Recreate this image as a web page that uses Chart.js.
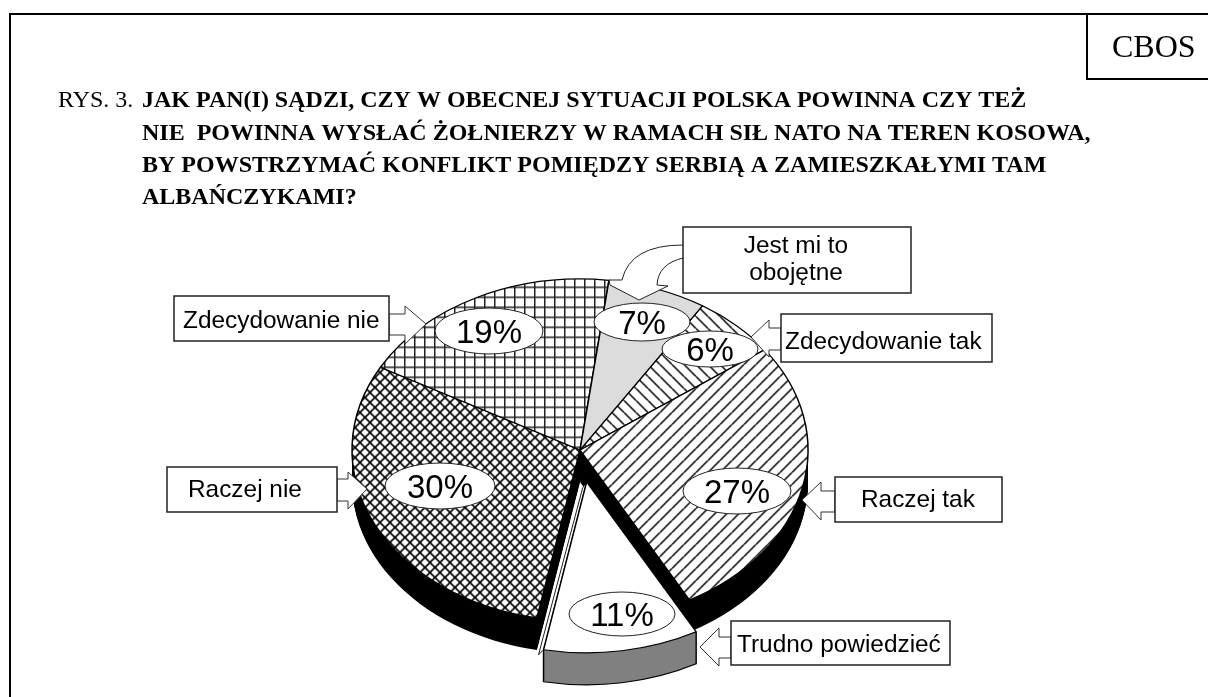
<!DOCTYPE html>
<html>
<head>
<meta charset="utf-8">
<title>CBOS - Kosowo</title>
<script src="https://cdn.jsdelivr.net/npm/chart.js"></script>
<style>
  html, body { margin: 0; padding: 0; background: #fff; }
  canvas { display: block; }
</style>
</head>
<body>
<canvas id="pieChart" width="1208" height="697"></canvas>
<script>
  // data, clockwise from the 6% slice
  var categories = ['Zdecydowanie tak', 'Raczej tak', 'Trudno powiedzieć', 'Raczej nie', 'Zdecydowanie nie', 'Jest mi to obojętne'];
  var values = [6, 27, 11, 30, 19, 7];
  var explodedCategory = 'Trudno powiedzieć';

  var titleLines = [
    'JAK PAN(I) SĄDZI, CZY W OBECNEJ SYTUACJI POLSKA POWINNA CZY TEŻ',
    'NIE  POWINNA WYSŁAĆ ŻOŁNIERZY W RAMACH SIŁ NATO NA TEREN KOSOWA,',
    'BY POWSTRZYMAĆ KONFLIKT POMIĘDZY SERBIĄ A ZAMIESZKAŁYMI TAM',
    'ALBAŃCZYKAMI?'
  ];
  var figureLabel = 'RYS. 3.';
  var sourceLabel = 'CBOS';

  // look of the fake 3d pie
  var tilt = 0.75;
  var depth = 32;
  var explode = 43;
  var serif = '"Liberation Serif"';
  var sans = '"Liberation Sans"';

  // ovals with the percentages, same order as categories
  var ovals = [
    { x: 710, y: 349, rx: 48, ry: 18 },
    { x: 737, y: 491, rx: 54, ry: 23 },
    { x: 622, y: 614, rx: 53, ry: 22 },
    { x: 440, y: 486, rx: 55, ry: 23 },
    { x: 489, y: 331, rx: 54, ry: 23 },
    { x: 642, y: 322, rx: 48, ry: 19 }
  ];
  var drawOrder = [4, 5, 0, 1, 2, 3];

  // label boxes and arrows, same order as categories
  // arrow: tip x, tip y, head x, head top, head bottom, box x, shaft top, shaft bottom
  var callouts = [
    { box: [781, 314, 992, 362], text: [785, 349], arrow: [751, 337, 769, 320, 357, 781, 328, 350] },
    { box: [835, 477, 1002, 522], text: [861, 507], arrow: [802, 500, 821, 482, 520, 835, 491, 512] },
    { box: [731, 621, 950, 665], text: [737, 652], arrow: [700, 647, 719, 628, 666, 731, 637, 658] },
    { box: [167, 467, 337, 512], text: [188, 497], arrow: [367, 489, 348, 472, 509, 337, 479, 501] },
    { box: [174, 296, 389, 341], text: [183, 328], arrow: [426, 324, 405, 306, 344, 389, 314, 335] },
    { box: [683, 227, 911, 293], text: null, arrow: null }
  ];

  function hatch(size, draw) {
    var c = document.createElement('canvas');
    c.width = size;
    c.height = size;
    var g = c.getContext('2d');
    g.fillStyle = '#fff';
    g.fillRect(0, 0, size, size);
    g.strokeStyle = '#000';
    draw(g, size);
    var pattern = g.createPattern(c, 'repeat');
    // undo the tilt so the hatch keeps its real spacing
    pattern.setTransform(new DOMMatrix().scale(1, 1 / tilt));
    return pattern;
  }

  function slashes(g, s, flip) {
    for (var i = -s; i <= s; i += s) {
      g.beginPath();
      if (flip) {
        g.moveTo(i, 0);
        g.lineTo(i + s, s);
      } else {
        g.moveTo(i + s, 0);
        g.lineTo(i, s);
      }
      g.stroke();
    }
  }

  var fills = [
    hatch(12, function(g, s) { g.lineWidth = 1.5; slashes(g, s, true); }),
    hatch(12, function(g, s) { g.lineWidth = 1.5; slashes(g, s, false); }),
    '#ffffff',
    hatch(10, function(g, s) { g.lineWidth = 1.6; slashes(g, s, true); slashes(g, s, false); }),
    hatch(10, function(g, s) { g.fillStyle = '#222'; g.fillRect(0, 4, s, 1.5); g.fillRect(4, 0, 1.5, s); }),
    '#dcdcdc'
  ];

  function sectorPath(ctx, arc, dy) {
    ctx.beginPath();
    ctx.moveTo(arc.x, arc.y + dy);
    ctx.arc(arc.x, arc.y + dy, arc.outerRadius, arc.startAngle, arc.endAngle);
    ctx.closePath();
  }

  var pie3d = {
    id: 'pie3d',
    afterDatasetsUpdate: function(chart) {
      var arcs = chart.getDatasetMeta(0).data;
      var arc = arcs[categories.indexOf(explodedCategory)];
      var mid = (arc.startAngle + arc.endAngle) / 2;
      arc.x += Math.cos(mid) * explode;
      arc.y += Math.sin(mid) * explode;
    },
    beforeDatasetsDraw: function(chart) {
      var ctx = chart.ctx;
      var arcs = chart.getDatasetMeta(0).data;
      var cx = (chart.chartArea.left + chart.chartArea.right) / 2;
      var cy = (chart.chartArea.top + chart.chartArea.bottom) / 2;
      var ex = categories.indexOf(explodedCategory);
      ctx.save();
      ctx.translate(cx, cy);
      ctx.scale(1, tilt);
      ctx.translate(-cx, -cy);
      // side walls: the sectors repeated downwards
      for (var i = 0; i < arcs.length; i++) {
        if (i === ex) continue;
        ctx.fillStyle = '#000';
        for (var d = depth; d > 0; d--) {
          sectorPath(ctx, arcs[i], d / tilt);
          ctx.fill();
        }
      }
      var arc = arcs[ex];
      ctx.fillStyle = '#808080';
      for (var d2 = depth; d2 > 0; d2--) {
        sectorPath(ctx, arc, d2 / tilt);
        ctx.fill();
      }
      // outline of the grey wall: bottom curve and the two upright edges
      var dy = depth / tilt;
      var ox = arc.x + Math.cos(arc.endAngle) * arc.outerRadius;
      var oy = arc.y + Math.sin(arc.endAngle) * arc.outerRadius;
      ctx.beginPath();
      ctx.moveTo(arc.x + Math.cos(arc.startAngle) * arc.outerRadius, arc.y + Math.sin(arc.startAngle) * arc.outerRadius);
      ctx.arc(arc.x, arc.y + dy, arc.outerRadius, arc.startAngle, arc.endAngle);
      ctx.lineTo(ox, oy);
      ctx.strokeStyle = '#000';
      ctx.lineWidth = 1.5;
      ctx.stroke();
      // thin white cut face on the left of the pulled out slice
      ctx.beginPath();
      ctx.moveTo(arc.x, arc.y);
      ctx.lineTo(ox, oy);
      ctx.lineTo(ox - 5, oy + 5 / tilt);
      ctx.lineTo(arc.x - 4, arc.y + 6 / tilt);
      ctx.closePath();
      ctx.fillStyle = '#fff';
      ctx.fill();
      ctx.lineWidth = 1;
      ctx.stroke();
      // tops are drawn by chart.js under this same squashed transform
    },
    afterDatasetsDraw: function(chart) {
      chart.ctx.restore();
      drawExtras(chart);
    }
  };

  function drawArrow(ctx, a) {
    ctx.beginPath();
    ctx.moveTo(a[0], a[1]);
    ctx.lineTo(a[2], a[3]);
    ctx.lineTo(a[2], a[6]);
    ctx.lineTo(a[5], a[6]);
    ctx.lineTo(a[5], a[7]);
    ctx.lineTo(a[2], a[7]);
    ctx.lineTo(a[2], a[4]);
    ctx.closePath();
    ctx.fillStyle = '#fff';
    ctx.fill();
    ctx.strokeStyle = '#333';
    ctx.lineWidth = 1;
    ctx.stroke();
  }

  function drawCurvedArrow(ctx) {
    ctx.beginPath();
    ctx.moveTo(683, 245);
    ctx.quadraticCurveTo(630, 245, 622, 280);
    ctx.lineTo(609, 280);
    ctx.lineTo(610, 285);
    ctx.lineTo(639, 300);
    ctx.lineTo(668, 286);
    ctx.lineTo(657, 285);
    ctx.quadraticCurveTo(658, 264, 683, 258);
    ctx.fillStyle = '#fff';
    ctx.fill();
    ctx.strokeStyle = '#222';
    ctx.lineWidth = 1;
    ctx.stroke();
  }

  function drawExtras(chart) {
    var ctx = chart.ctx;
    var i;
    ctx.save();

    // frame
    ctx.strokeStyle = '#000';
    ctx.lineWidth = 2;
    ctx.beginPath();
    ctx.moveTo(10, 697);
    ctx.lineTo(10, 14);
    ctx.lineTo(1208, 14);
    ctx.moveTo(1087, 14);
    ctx.lineTo(1087, 79);
    ctx.moveTo(1086, 79);
    ctx.lineTo(1208, 79);
    ctx.stroke();

    ctx.fillStyle = '#000';
    ctx.textAlign = 'left';
    ctx.textBaseline = 'alphabetic';
    ctx.font = '32px ' + serif;
    ctx.fillText(sourceLabel, 1112, 57);
    ctx.font = '24px ' + serif;
    ctx.fillText(figureLabel, 58, 107);
    ctx.font = 'bold 24px ' + serif;
    var baselines = [107, 140, 172, 204];
    for (i = 0; i < titleLines.length; i++) {
      ctx.fillText(titleLines[i], 142, baselines[i]);
    }

    // arrows go over the pie, then the boxes
    for (i = 0; i < callouts.length; i++) {
      if (callouts[i].arrow) drawArrow(ctx, callouts[i].arrow);
    }
    drawCurvedArrow(ctx);
    ctx.font = '24.4px ' + sans;
    for (i = 0; i < callouts.length; i++) {
      var c = callouts[i];
      ctx.fillStyle = '#fff';
      ctx.strokeStyle = '#222';
      ctx.lineWidth = 1.5;
      ctx.beginPath();
      ctx.rect(c.box[0], c.box[1], c.box[2] - c.box[0], c.box[3] - c.box[1]);
      ctx.fill();
      ctx.stroke();
      ctx.fillStyle = '#000';
      if (c.text) {
        ctx.fillText(categories[i], c.text[0], c.text[1]);
      }
    }
    // this label is broken in two lines
    var words = categories[5].split(' ');
    ctx.textAlign = 'center';
    ctx.fillText(words.slice(0, 3).join(' '), 796, 253);
    ctx.fillText(words[3], 796, 280);

    // percent ovals
    ctx.font = '33px ' + sans;
    for (i = 0; i < drawOrder.length; i++) {
      var k = drawOrder[i];
      var o = ovals[k];
      ctx.beginPath();
      ctx.ellipse(o.x, o.y, o.rx, o.ry, 0, 0, Math.PI * 2);
      ctx.fillStyle = '#fff';
      ctx.fill();
      ctx.strokeStyle = '#222';
      ctx.lineWidth = 1;
      ctx.stroke();
      ctx.fillStyle = '#000';
      ctx.fillText(values[k] + '%', o.x, o.y + 12);
    }
    ctx.restore();
  }

  new Chart(document.getElementById('pieChart').getContext('2d'), {
    type: 'pie',
    data: {
      labels: categories,
      datasets: [{
        data: values,
        backgroundColor: fills,
        borderColor: '#000',
        borderWidth: 1.5,
        clip: false
      }]
    },
    options: {
      responsive: false,
      animation: false,
      events: [],
      rotation: 32.5,
      radius: 228,
      layout: { padding: { left: 0, right: 48, top: 203, bottom: 0 } },
      plugins: { legend: { display: false }, tooltip: { enabled: false } }
    },
    plugins: [pie3d]
  });
</script>
</body>
</html>
